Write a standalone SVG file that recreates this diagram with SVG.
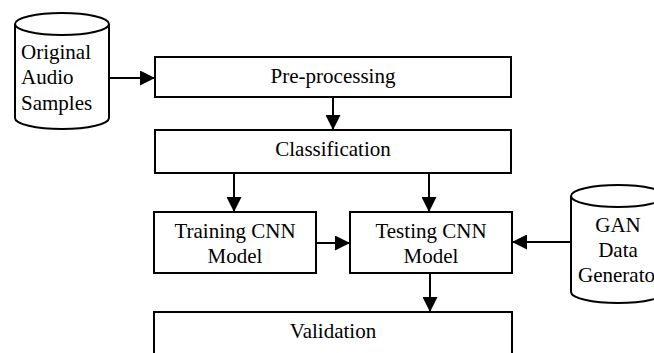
<svg xmlns="http://www.w3.org/2000/svg" width="654" height="353" viewBox="0 0 654 353">
<style>
.box{fill:#fff;stroke:#000;stroke-width:2}
.cyl{fill:#fff;stroke:#000;stroke-width:2}
.t{font-family:"Liberation Serif","Times New Roman",serif;font-size:21px;fill:#000}
.c{text-anchor:middle}
.con{stroke:#000;stroke-width:2;fill:none}
</style>
<defs>
<marker id="ah" viewBox="0 0 15 15" refX="15" refY="7.5" markerWidth="15" markerHeight="15" markerUnits="userSpaceOnUse" orient="auto">
<path d="M0,0 L15,7.5 L0,15 z" fill="#000"/>
</marker>
</defs>
<rect width="654" height="353" fill="#fff"/>
<g id="connectors">
<line class="con" x1="109" y1="78" x2="155" y2="78" marker-end="url(#ah)"/>
<line class="con" x1="333" y1="97" x2="333" y2="130" marker-end="url(#ah)"/>
<line class="con" x1="234" y1="173" x2="234" y2="212" marker-end="url(#ah)"/>
<line class="con" x1="429" y1="173" x2="429" y2="212" marker-end="url(#ah)"/>
<line class="con" x1="316" y1="243" x2="350" y2="243" marker-end="url(#ah)"/>
<line class="con" x1="571" y1="242" x2="512" y2="242" marker-end="url(#ah)"/>
<line class="con" x1="430" y1="273" x2="430" y2="312" marker-end="url(#ah)"/>
</g>
<g id="original-audio">
<path class="cyl" d="M15,24 a47,11 0 0 1 94,0 v94 a47,11 0 0 1 -94,0 z"/>
<path class="cyl" d="M15,24 a47,11 0 0 0 94,0" fill="none"/>
<text class="t" x="21" y="59">Original</text>
<text class="t" x="21" y="84">Audio</text>
<text class="t" x="21" y="110">Samples</text>
</g>
<g id="preprocessing">
<rect class="box" x="155" y="57" width="356" height="40"/>
<text class="t c" x="333" y="83">Pre-processing</text>
</g>
<g id="classification">
<rect class="box" x="155" y="130" width="356" height="43"/>
<text class="t c" x="333" y="156">Classification</text>
</g>
<g id="training">
<rect class="box" x="154" y="212" width="162" height="61"/>
<text class="t c" x="235" y="238">Training CNN</text>
<text class="t c" x="235" y="263">Model</text>
</g>
<g id="testing">
<rect class="box" x="350" y="212" width="162" height="61"/>
<text class="t c" x="431" y="238">Testing CNN</text>
<text class="t c" x="431" y="263">Model</text>
</g>
<g id="gan">
<path class="cyl" d="M571,196 a47,11 0 0 1 94,0 v96 a47,11 0 0 1 -94,0 z"/>
<path class="cyl" d="M571,196 a47,11 0 0 0 94,0" fill="none"/>
<text class="t c" x="618" y="232">GAN</text>
<text class="t c" x="618" y="257">Data</text>
<text class="t c" x="620" y="282">Generator</text>
</g>
<g id="validation">
<rect class="box" x="154" y="312" width="358" height="50"/>
<text class="t c" x="333" y="338">Validation</text>
</g>
</svg>
